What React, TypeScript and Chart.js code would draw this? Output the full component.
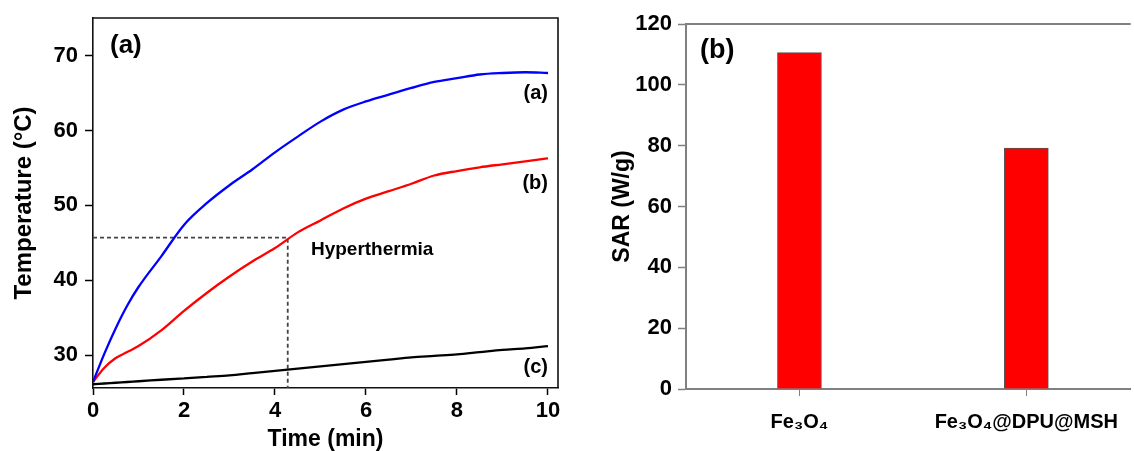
import React, { useEffect, useRef } from 'react';
import { Chart, registerables } from 'chart.js';

Chart.register(...registerables);

const FONT = '"Liberation Sans", Arial, Helvetica, sans-serif';
Chart.defaults.font.family = FONT;

// ---- Panel (a): heating curves ----
const timeMin = [0, 0.25, 0.5, 0.75, 1, 1.5, 2, 2.5, 3, 3.5, 4, 4.5, 5, 5.5, 6, 6.5, 7, 7.5, 8, 8.5, 9, 9.5, 10];
const tempA = [26.4, 30.2, 33.6, 36.6, 39.1, 43.2, 47.4, 50.3, 52.7, 54.8, 57.1, 59.2, 61.2, 62.8, 63.9, 64.8, 65.7, 66.5, 67.0, 67.5, 67.7, 67.8, 67.7];
const tempB = [26.4, 28.3, 29.6, 30.4, 31.2, 33.3, 35.9, 38.3, 40.5, 42.5, 44.3, 46.4, 48.0, 49.6, 50.9, 51.9, 52.9, 54.0, 54.6, 55.1, 55.5, 55.9, 56.3];
const tempC = [26.1, 26.2, 26.3, 26.4, 26.5, 26.7, 26.9, 27.1, 27.3, 27.6, 27.9, 28.2, 28.5, 28.8, 29.1, 29.4, 29.7, 29.9, 30.1, 30.4, 30.7, 30.9, 31.2];
const hyperTime = [0, 4.28, 4.28];
const hyperTemp = [45.7, 45.7, 25.6];
const timeTicks = [0, 2, 4, 6, 8, 10];
const tempTicks = [30, 40, 50, 60, 70];
const seriesTags = ['(a)', '(b)', '(c)'];

// ---- Panel (b): SAR bars ----
const samples = ['Fe\u2083O\u2084', 'Fe\u2083O\u2084@DPU@MSH'];
const sarValues = [110.6, 79.2];
const sarTicks = [0, 20, 40, 60, 80, 100, 120];

const pts = (xs: number[], ys: number[]) => xs.map((x, i) => ({ x, y: ys[i] }));
const bold = (size: number) => ({ size, weight: 'bold' as const, lineHeight: 1 });

const leftPlugin = {
  id: 'leftDecor',
  afterDraw(chart: any) {
    const { ctx, chartArea, scales } = chart;
    const { left, top, right, bottom } = chartArea;
    const x = scales.x;
    const y = scales.y;
    ctx.save();
    ctx.strokeStyle = '#111';
    ctx.lineWidth = 1.6;
    ctx.beginPath();
    ctx.moveTo(left, top);
    ctx.lineTo(right, top);
    ctx.lineTo(right, bottom);
    ctx.stroke();
    ctx.fillStyle = '#000';
    ctx.textBaseline = 'middle';
    ctx.textAlign = 'left';
    ctx.font = `bold 26px ${FONT}`;
    ctx.fillText('(a)', left + 17, top + 28);
    ctx.font = `bold 19px ${FONT}`;
    ctx.fillText('Hyperthermia', x.getPixelForValue(4.79), y.getPixelForValue(44.1));
    ctx.font = `bold 20px ${FONT}`;
    ctx.textAlign = 'right';
    const tagTemps = [64.9, 53.0, 28.3];
    seriesTags.forEach((t, i) => ctx.fillText(t, x.getPixelForValue(10), y.getPixelForValue(tagTemps[i])));
    ctx.restore();
  },
};

const rightPlugin = {
  id: 'rightDecor',
  afterDraw(chart: any) {
    const { ctx, chartArea } = chart;
    const { left, top, right } = chartArea;
    ctx.save();
    ctx.strokeStyle = '#808080';
    ctx.lineWidth = 2;
    ctx.beginPath();
    ctx.moveTo(left, top);
    ctx.lineTo(right, top);
    ctx.stroke();
    ctx.fillStyle = '#000';
    ctx.textBaseline = 'middle';
    ctx.textAlign = 'left';
    ctx.font = `bold 27px ${FONT}`;
    ctx.fillText('(b)', left + 14, top + 27);
    ctx.restore();
  },
};

const lineDs = (ys: number[], color: string) => ({
  data: pts(timeMin, ys),
  borderColor: color,
  backgroundColor: color,
  borderWidth: 2.3,
  pointRadius: 0,
  cubicInterpolationMode: 'monotone' as const,
});

export default function App() {
  const leftRef = useRef<HTMLCanvasElement>(null);
  const rightRef = useRef<HTMLCanvasElement>(null);

  useEffect(() => {
    const left = new Chart(leftRef.current!, {
      type: 'line',
      data: {
        datasets: [
          lineDs(tempA, '#0000ff'),
          lineDs(tempB, '#ff0000'),
          lineDs(tempC, '#000000'),
          {
            data: pts(hyperTime, hyperTemp),
            borderColor: '#444',
            borderWidth: 1.8,
            borderDash: [4, 3],
            pointRadius: 0,
            tension: 0,
          },
        ],
      },
      options: {
        animation: false,
        responsive: false,
        devicePixelRatio: 1,
        layout: { padding: { top: 17, right: 12, left: 0, bottom: 0 } },
        plugins: { legend: { display: false }, tooltip: { enabled: false } },
        scales: {
          x: {
            type: 'linear',
            min: 0,
            max: 10.22,
            afterBuildTicks: (s: any) => { s.ticks = timeTicks.map((v) => ({ value: v })); },
            afterFit: (s: any) => { s.height = 63; },
            grid: { drawOnChartArea: false, drawTicks: true, tickLength: 7, tickColor: '#000', tickWidth: 1.5 },
            border: { display: true, color: '#111', width: 1.6 },
            ticks: { color: '#000', font: bold(22), padding: 5, maxRotation: 0, autoSkip: false },
            title: { display: true, text: 'Time (min)', color: '#000', font: bold(23), padding: { top: 0, bottom: 0 } },
          },
          y: {
            type: 'linear',
            min: 25.6,
            max: 75.05,
            afterBuildTicks: (s: any) => { s.ticks = tempTicks.map((v) => ({ value: v })); },
            afterFit: (s: any) => { s.width = 93; },
            grid: { drawOnChartArea: false, drawTicks: true, tickLength: 8, tickColor: '#000', tickWidth: 1.5 },
            border: { display: true, color: '#111', width: 1.6 },
            ticks: { color: '#000', font: bold(22), padding: 7 },
            title: { display: true, text: 'Temperature (°C)', color: '#000', font: bold(24), padding: { top: 12, bottom: 0 } },
          },
        },
      },
      plugins: [leftPlugin],
    } as any);

    const right = new Chart(rightRef.current!, {
      type: 'bar',
      data: {
        datasets: [
          {
            data: sarValues.map((v, i) => ({ x: i + 1, y: v })),
            backgroundColor: '#ff0000',
            borderColor: '#555555',
            borderWidth: 1,
            barThickness: 44,
          },
        ],
      },
      options: {
        animation: false,
        responsive: false,
        devicePixelRatio: 1,
        layout: { padding: { top: 24, right: 0, left: 0, bottom: 0 } },
        plugins: { legend: { display: false }, tooltip: { enabled: false } },
        scales: {
          x: {
            type: 'linear',
            min: 0.5,
            max: 2.46,
            offset: false,
            afterBuildTicks: (s: any) => { s.ticks = samples.map((_, i) => ({ value: i + 1 })); },
            afterFit: (s: any) => { s.height = 62; },
            grid: { offset: false, drawOnChartArea: false, drawTicks: true, tickLength: 7, tickColor: '#808080', tickWidth: 1 },
            border: { display: true, color: '#808080', width: 2 },
            ticks: {
              color: '#000',
              font: bold(20),
              padding: 16,
              maxRotation: 0,
              autoSkip: false,
              callback: (v: any) => samples[Math.round(Number(v)) - 1] ?? '',
            },
          },
          y: {
            type: 'linear',
            min: 0,
            max: 120,
            afterBuildTicks: (s: any) => { s.ticks = sarTicks.map((v) => ({ value: v })); },
            afterFit: (s: any) => { s.width = 116; },
            grid: { drawOnChartArea: false, drawTicks: true, tickLength: 8, tickColor: '#808080', tickWidth: 1.5 },
            border: { display: true, color: '#808080', width: 2 },
            ticks: { color: '#000', font: bold(22), padding: 6 },
            title: { display: true, text: 'SAR (W/g)', color: '#000', font: bold(23), padding: { top: 41, bottom: 0 } },
          },
        },
      },
      plugins: [rightPlugin],
    } as any);

    return () => {
      left.destroy();
      right.destroy();
    };
  }, []);

  return (
    <div style={{ position: 'fixed', left: 0, top: 0, width: 1134, height: 451, background: '#fff', overflow: 'hidden' }}>
      <canvas ref={leftRef} width={570} height={451} style={{ position: 'absolute', left: 0, top: 0, width: 570, height: 451 }} />
      <canvas ref={rightRef} width={564} height={451} style={{ position: 'absolute', left: 570, top: 0, width: 564, height: 451 }} />
    </div>
  );
}
